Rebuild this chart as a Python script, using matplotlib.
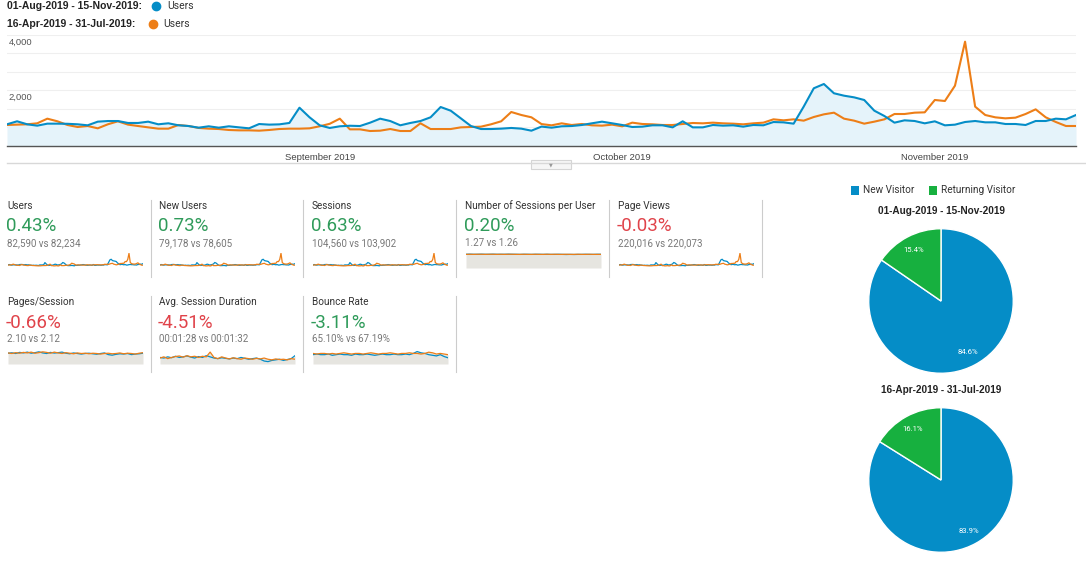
import numpy as np
import pandas as pd
import matplotlib
matplotlib.use('Agg')
import matplotlib.pyplot as plt
from matplotlib.patches import Rectangle
from matplotlib.lines import Line2D

plt.rcParams['font.family'] = ['Roboto', 'DejaVu Sans']

W, H = 1086, 563

# ---- data ----
days = pd.date_range('2019-08-01', '2019-11-15')
users_cur = [782, 890, 782, 733, 805, 805, 800, 782, 746, 877, 900, 900, 830, 830, 877, 782,
             818, 746, 720, 660, 710, 660, 710, 672, 637, 792, 770, 780, 830, 1380, 1034, 746,
             650, 710, 730, 720, 840, 985, 900, 746, 830, 900, 1034, 1405, 1272, 997, 720, 612,
             612, 625, 650, 625, 552, 700, 660, 710, 720, 757, 818, 877, 818, 757, 685, 697,
             746, 746, 672, 890, 672, 672, 757, 733, 746, 697, 757, 746, 864, 852, 805, 1420,
             2080, 2234, 1900, 1813, 1753, 1658, 1273, 1081, 841, 925, 901, 817, 889, 745, 769,
             865, 901, 853, 853, 793, 793, 757, 901, 901, 985, 961, 1117]
users_prev = [757, 770, 782, 818, 985, 890, 757, 685, 720, 637, 782, 890, 770, 720, 672, 625,
              625, 757, 720, 650, 625, 612, 577, 564, 564, 552, 577, 612, 625, 625, 637, 710,
              800, 985, 600, 600, 540, 552, 612, 540, 540, 818, 612, 612, 612, 672, 685, 697,
              782, 890, 1225, 1117, 1034, 790, 745, 817, 757, 793, 745, 733, 769, 709, 841, 793,
              781, 757, 757, 793, 829, 817, 841, 817, 805, 781, 817, 841, 961, 925, 961, 913,
              1045, 1141, 1201, 985, 913, 805, 877, 961, 1153, 1153, 1201, 1213, 1658, 1622, 2174,
              3760, 1418, 1117, 1033, 997, 1021, 1153, 1321, 1033, 865, 721, 721]

period_cur = '01-Aug-2019 - 15-Nov-2019'
period_prev = '16-Apr-2019 - 31-Jul-2019'

spu_cur = [1.27, 1.28, 1.27, 1.27, 1.28, 1.27, 1.27, 1.28, 1.27, 1.27, 1.27, 1.28, 1.27, 1.27, 1.26, 1.27, 1.27, 1.26,
           1.27, 1.27, 1.26, 1.27, 1.26, 1.26, 1.27, 1.26, 1.25, 1.26, 1.25, 1.26, 1.26, 1.27, 1.26, 1.26, 1.27, 1.27]
spu_prev = [1.26, 1.27, 1.26, 1.27, 1.27, 1.26, 1.27, 1.27, 1.26, 1.27, 1.26, 1.27, 1.27, 1.26, 1.26, 1.27, 1.26, 1.26,
            1.27, 1.26, 1.26, 1.27, 1.26, 1.27, 1.26, 1.26, 1.27, 1.26, 1.26, 1.27, 1.26, 1.26, 1.27, 1.26, 1.26, 1.26]
pps_cur = [2.12, 2.15, 2.10, 2.18, 2.14, 2.20, 2.12, 2.16, 2.22, 2.14, 2.10, 2.18, 2.13, 2.16, 2.20, 2.12, 2.08, 2.14,
           2.10, 2.06, 2.10, 2.12, 2.08, 2.05, 2.10, 2.14, 2.02, 1.98, 2.04, 2.08, 2.06, 2.10, 2.02, 2.06, 2.08, 2.12]
pps_prev = [2.14, 2.10, 2.16, 2.12, 2.18, 2.14, 2.20, 2.12, 2.16, 2.22, 2.18, 2.12, 2.20, 2.14, 2.10, 2.16, 2.12, 2.08,
            2.14, 2.10, 2.12, 2.08, 2.12, 2.10, 2.06, 2.10, 2.12, 2.08, 2.10, 2.14, 2.08, 2.12, 2.10, 2.06, 2.12, 2.16]
dur_cur = [90, 88, 92, 89, 94, 90, 92, 95, 91, 88, 93, 90, 96, 92, 88, 86, 89, 87,
           85, 88, 86, 90, 87, 84, 86, 88, 84, 78, 76, 80, 82, 84, 80, 83, 86, 96]
dur_prev = [88, 92, 86, 90, 93, 95, 91, 96, 92, 94, 90, 94, 92, 108, 90, 86, 92, 88,
            85, 89, 86, 84, 88, 86, 84, 87, 85, 88, 84, 82, 85, 83, 84, 82, 86, 84]
br_cur = [65, 66, 65, 65, 66, 64, 65, 66, 65, 65, 64, 66, 65, 65, 66, 65, 64, 65,
          66, 65, 65, 66, 65, 65, 66, 65, 67, 70, 68, 67, 65, 64, 63, 65, 62, 60]
br_prev = [67, 66, 67, 67, 66, 67, 66, 67, 68, 67, 66, 67, 67, 66, 67, 68, 67, 66,
           67, 67, 68, 67, 66, 67, 67, 68, 67, 67, 66, 67, 69, 68, 66, 67, 66, 65]

metric_names = ['Users', 'New Users', 'Sessions', 'Number of Sessions per User', 'Page Views',
                'Pages/Session', 'Avg. Session Duration', 'Bounce Rate']
metric_change = ['0.43%', '0.73%', '0.63%', '0.20%', '-0.03%', '-0.66%', '-4.51%', '-3.11%']
metric_good = [True, True, True, True, False, False, False, True]
metric_values = ['82,590 vs 82,234', '79,178 vs 78,605', '104,560 vs 103,902', '1.27 vs 1.26',
                 '220,016 vs 220,073', '2.10 vs 2.12', '00:01:28 vs 00:01:32', '65.10% vs 67.19%']
metric_spark = [(users_cur, users_prev), (users_cur, users_prev), (users_cur, users_prev),
                (spu_cur, spu_prev), (users_cur, users_prev),
                (pps_cur, pps_prev), (dur_cur, dur_prev), (br_cur, br_prev)]

visitor_types = ['New Visitor', 'Returning Visitor']
visitor_cur = [84.6, 15.4]
visitor_prev = [83.9, 16.1]

BLUE = '#058dc7'
ORANGE = '#ed7e17'
PIE_BLUE = '#058dc7'
PIE_GREEN = '#17b03f'
GREEN = '#2f9b5a'
RED = '#e0434a'


def box(x0, y0, x1, y1):
    return [x0 / W, 1 - y1 / H, (x1 - x0) / W, (y1 - y0) / H]


fig = plt.figure(figsize=(W / 100, H / 100), dpi=100)
fig.patch.set_facecolor('white')


def ftext(x, y, s, **kw):
    kw.setdefault('va', 'center')
    fig.text(x / W, 1 - y / H, s, **kw)


def fline(xs, ys, **kw):
    fig.add_artist(Line2D([x / W for x in xs], [1 - y / H for y in ys], **kw))


# ---- legend on top ----
ftext(7, 6, period_cur + ':', fontsize=7.5, fontweight='bold', color='#222',
      family=['Liberation Sans', 'DejaVu Sans'])
ftext(7, 24, period_prev + ':', fontsize=7.5, fontweight='bold', color='#222',
      family=['Liberation Sans', 'DejaVu Sans'])
fig.add_artist(Line2D([156 / W], [1 - 6 / H], marker='o', markersize=6, color=BLUE, lw=0))
fig.add_artist(Line2D([153 / W], [1 - 24 / H], marker='o', markersize=6, color=ORANGE, lw=0))
ftext(167, 6, 'Users', fontsize=7.5, color='#333')
ftext(163, 24, 'Users', fontsize=7.5, color='#333')

# ---- main line chart ----
x = np.arange(len(days))
ax = fig.add_axes(box(7, 35, 1076, 146))
ax.set_xlim(0, len(days) - 1)
ax.set_ylim(0, 4000)
ax.set_yticks(np.linspace(0, 4000, 7))
ax.yaxis.grid(True, color='#efefef', lw=0.8)
ax.set_axisbelow(True)
ax.tick_params(axis='y', length=0, labelleft=False)
for s in ['top', 'left', 'right']:
    ax.spines[s].set_visible(False)
ax.spines['bottom'].set_color('#555')
ax.spines['bottom'].set_linewidth(1)
ax.fill_between(x, users_cur, 0, color='#e5f3fa', lw=0)
ax.plot(x, users_prev, color=ORANGE, lw=1.5)
ax.plot(x, users_cur, color=BLUE, lw=1.5)
month_idx = [i for i, d in enumerate(days) if d.day == 1 and i > 0]
ax.set_xticks(month_idx)
ax.set_xticklabels([days[i].strftime('%B %Y') for i in month_idx], fontsize=6.8, color='#444',
                   family=['Liberation Sans', 'DejaVu Sans'])
ax.tick_params(axis='x', length=0, pad=5)
for v, lab in [(4000, '4,000'), (2000, '2,000')]:
    ax.annotate(lab, xy=(0, v), xycoords=('axes fraction', 'data'), xytext=(1, -2),
                textcoords='offset points', ha='left', va='top', fontsize=6.8, color='#555',
                family=['Liberation Sans', 'DejaVu Sans'])

# separator and toggle button
fline([7, 1086], [163, 163], color='#d8d8d8', lw=1)
fig.add_artist(Rectangle((531 / W, 1 - 169 / H), 40 / W, 9 / H, transform=fig.transFigure,
                         facecolor='#f6f6f6', edgecolor='#d5d5d5', lw=0.8))
ftext(551, 164.5, '\u25bc', fontsize=3.5, color='#999', ha='center',
      family=['DejaVu Sans'])

# ---- metric tiles ----
col_x = [7, 159, 312, 465, 618]
for k, name in enumerate(metric_names):
    row, col = divmod(k, 5)
    x0 = col_x[col]
    if row == 0:
        yt, yb, ys = 206, 226, 243
    else:
        yt, yb, ys = 302, 323, 339
    ftext(x0, yt, name, fontsize=7.2, color='#333')
    ftext(x0 - 1, yb, metric_change[k], fontsize=13.5, color=GREEN if metric_good[k] else RED)
    ftext(x0, ys, metric_values[k], fontsize=7, color='#777')
    # separator to the right of the tile
    sx = x0 + 144
    if row == 0:
        fline([sx, sx], [200, 277], color='#cccccc', lw=0.8)
    else:
        fline([sx, sx], [296, 372], color='#cccccc', lw=0.8)

    cur, prev = metric_spark[k]
    xs = np.arange(len(cur))
    if k in (0, 1, 2, 4):
        sax = fig.add_axes(box(x0 + 1, 253, x0 + 136, 268))
        sax.set_ylim(0, max(max(cur), max(prev)) * 1.02)
        sax.plot(xs, cur, color=BLUE, lw=0.9)
        sax.plot(xs, prev, color=ORANGE, lw=0.9)
    else:
        if k == 3:
            sax = fig.add_axes(box(x0 + 1, 252, x0 + 136, 268))
            sax.set_ylim(0, 1.48)
        elif k == 5:
            sax = fig.add_axes(box(x0 + 1, 350, x0 + 136, 364))
            sax.set_ylim(1.35, 2.35)
        elif k == 6:
            sax = fig.add_axes(box(x0 + 1, 350, x0 + 136, 364))
            sax.set_ylim(68, 115)
        else:
            sax = fig.add_axes(box(x0 + 1, 350, x0 + 136, 364))
            sax.set_ylim(50, 72.5)
        sax.fill_between(xs, np.maximum(cur, prev), sax.get_ylim()[0], color='#e6e5e0', lw=0)
        sax.plot(xs, cur, color=BLUE, lw=0.9)
        sax.plot(xs, prev, color=ORANGE, lw=0.9)
    sax.set_xlim(0, len(cur) - 1)
    sax.axis('off')

# ---- visitor type pies ----
fig.add_artist(Rectangle((851 / W, 1 - 194.5 / H), 8 / W, 8 / H, transform=fig.transFigure,
                         facecolor=PIE_BLUE, lw=0))
fig.add_artist(Rectangle((929 / W, 1 - 194.5 / H), 8 / W, 8 / H, transform=fig.transFigure,
                         facecolor=PIE_GREEN, lw=0))
ftext(863, 190, visitor_types[0], fontsize=7.2, color='#333')
ftext(941, 190, visitor_types[1], fontsize=7.2, color='#333')

for vals, title, ty, (py0, py1) in [(visitor_cur, period_cur, 211, (228, 374)),
                                   (visitor_prev, period_prev, 390, (407, 553))]:
    ftext(941, ty, title, fontsize=7.2, fontweight='bold', color='#222', ha='center',
          family=['Liberation Sans', 'DejaVu Sans'])
    pax = fig.add_axes(box(868, py0, 1014, py1))
    wedges, texts, autotexts = pax.pie(vals, colors=[PIE_BLUE, PIE_GREEN], startangle=90,
                                       counterclock=False, autopct='%.1f%%', pctdistance=0.8,
                                       wedgeprops=dict(edgecolor='white', linewidth=1),
                                       textprops=dict(color='white', fontsize=5.6))
    pax.set_xlim(-1.01, 1.01)
    pax.set_ylim(-1.01, 1.01)
    pax.set_aspect('equal')

fig.savefig('out.png', dpi=100, facecolor='white')
